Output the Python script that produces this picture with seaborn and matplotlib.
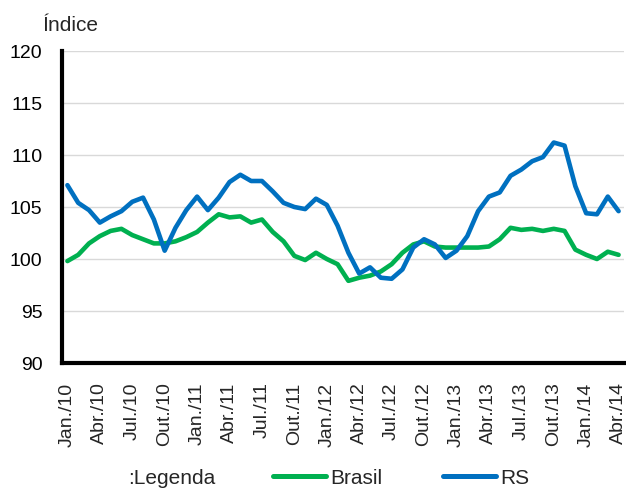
import numpy as np
import pandas as pd
import matplotlib
matplotlib.use("Agg")
import matplotlib.pyplot as plt
from matplotlib.lines import Line2D
import seaborn as sns

# Monthly index, Jan/2010 - Apr/2014
months = pd.date_range("2010-01-01", "2014-04-01", freq="MS")
brasil = [99.8, 100.4, 101.5, 102.2, 102.7, 102.9, 102.3, 101.9, 101.5, 101.5,
          101.7, 102.1, 102.6, 103.5, 104.3, 104.0, 104.1, 103.5, 103.8, 102.6,
          101.7, 100.3, 99.9, 100.6, 100.0, 99.5, 97.9, 98.2, 98.4, 98.8,
          99.5, 100.6, 101.4, 101.7, 101.2, 101.1, 101.1, 101.1, 101.1, 101.2,
          101.9, 103.0, 102.8, 102.9, 102.7, 102.9, 102.7, 100.9, 100.4, 100.0,
          100.7, 100.4]
rs = [107.1, 105.4, 104.7, 103.5, 104.1, 104.6, 105.5, 105.9, 103.8, 100.8,
      103.0, 104.7, 106.0, 104.7, 105.9, 107.4, 108.1, 107.5, 107.5, 106.5,
      105.4, 105.0, 104.8, 105.8, 105.2, 103.2, 100.6, 98.6, 99.2, 98.2,
      98.1, 99.0, 101.1, 101.9, 101.4, 100.1, 100.8, 102.2, 104.6, 106.0,
      106.4, 108.0, 108.6, 109.4, 109.8, 111.2, 110.9, 107.0, 104.4, 104.3,
      106.0, 104.6]
series_names = ["Brasil", "RS"]
colors = {"Brasil": "#00B050", "RS": "#0070C0"}
month_abbr = {1: "Jan.", 4: "Abr.", 7: "Jul.", 10: "Out."}
yticks = [90, 95, 100, 105, 110, 115, 120]

n = len(months)
df = pd.DataFrame({
    "idx": list(range(n)) * 2,
    "valor": brasil + rs,
    "serie": ["Brasil"] * n + ["RS"] * n,
})

sns.set_style("white")
plt.rcParams["font.family"] = ["Liberation Sans", "DejaVu Sans"]

fig = plt.figure(figsize=(6.26, 4.88), dpi=100)
ax = fig.add_axes([62 / 626, 1 - 363 / 488, (624 - 62) / 626, (363 - 51) / 488])

sns.lineplot(data=df, x="idx", y="valor", hue="serie", palette=colors,
             hue_order=series_names, linewidth=3.3, legend=False, ax=ax)

ax.set_ylim(90, 120)
ax.set_xlim(-0.45, n - 0.6)
ax.set_yticks(yticks)
ax.set_yticklabels([str(v) for v in yticks], fontsize=14)
ax.yaxis.grid(True, color="#D9D9D9", linewidth=1)
ax.xaxis.grid(False)

tick_pos = [i for i, m in enumerate(months) if m.month in month_abbr]
tick_lab = [f"{month_abbr[months[i].month]}/{months[i].year % 100:02d}" for i in tick_pos]
ax.set_xticks(tick_pos)
ax.set_xticklabels(tick_lab, rotation=90, fontsize=14)
ax.set_xticks(np.arange(-0.5, n, 0.5), minor=True)
ax.set_xlabel("")
ax.set_ylabel("")

for side in ["top", "right"]:
    ax.spines[side].set_visible(False)
for side in ["left", "bottom"]:
    ax.spines[side].set_linewidth(3)
    ax.spines[side].set_color("black")

ax.tick_params(axis="y", direction="out", length=4, width=3, pad=10, colors="black")
ax.tick_params(axis="x", which="major", direction="out", length=3, width=2, pad=11)
ax.tick_params(axis="x", which="minor", direction="out", length=3, width=2)

fig.text(43 / 626, 1 - 31 / 488, "Índice", fontsize=15, ha="left", va="baseline")

handles = [Line2D([], [], color=colors[s], linewidth=3.6) for s in series_names]
fig.legend(handles, series_names, loc="center left", ncol=2, frameon=False,
           bbox_to_anchor=(273 / 626, 1 - 478 / 488), fontsize=15,
           handlelength=2.55, handletextpad=0.2, columnspacing=2.9,
           borderpad=0, borderaxespad=0)
fig.text(128 / 626, 1 - 478 / 488, ":Legenda", fontsize=15, ha="left", va="center")

fig.savefig("out.png", dpi=100)
